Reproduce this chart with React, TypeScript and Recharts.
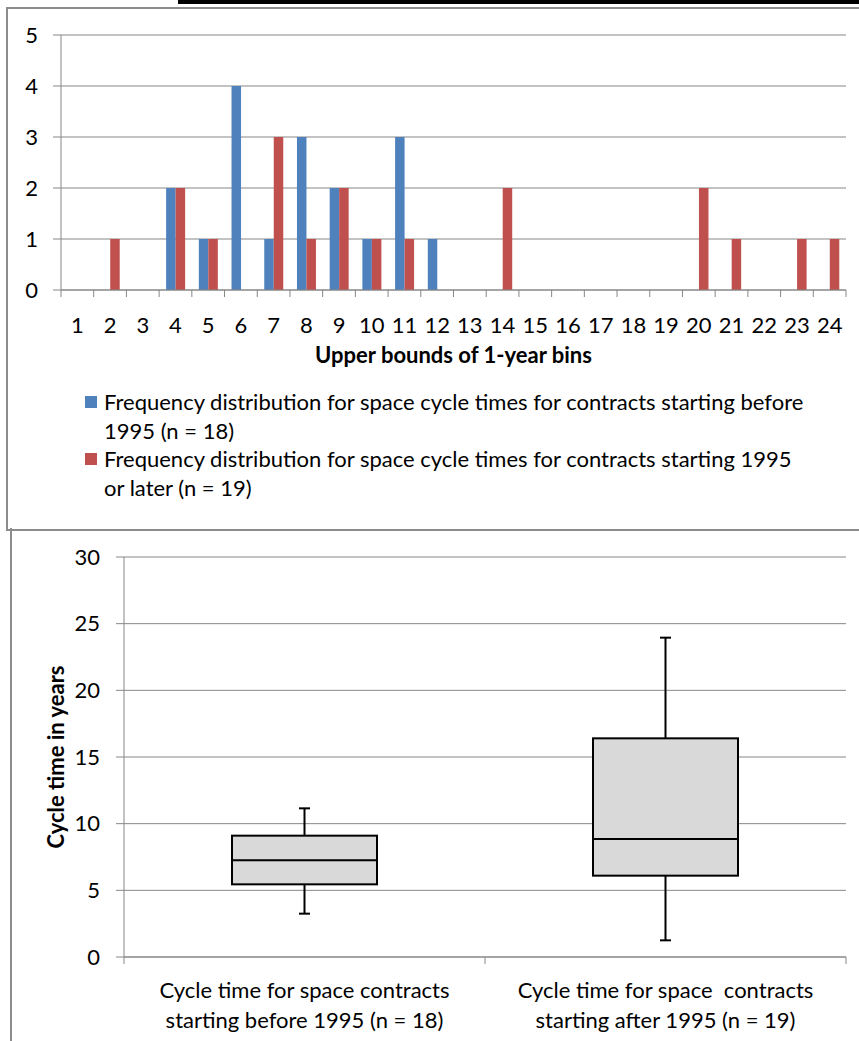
import React from "react";
import { BarChart, Bar, XAxis, YAxis, CartesianGrid } from "recharts";

// --- histogram data (1-year bins) ---
const bins = ["1", "2", "3", "4", "5", "6", "7", "8", "9", "10", "11", "12", "13", "14", "15", "16", "17", "18", "19", "20", "21", "22", "23", "24"];
const beforeCounts = [0, 0, 0, 2, 1, 4, 1, 3, 2, 1, 3, 1, 0, 0, 0, 0, 0, 0, 0, 0, 0, 0, 0, 0];
const laterCounts = [0, 1, 0, 2, 1, 0, 3, 1, 2, 1, 1, 0, 0, 2, 0, 0, 0, 0, 0, 2, 1, 0, 1, 1];
const histTicks = [0, 1, 2, 3, 4, 5];

const legendBefore = ["Frequency distribution for space cycle times for contracts starting before", "1995 (n = 18)"];
const legendLater = ["Frequency distribution for space cycle times for contracts starting 1995", "or later (n = 19)"];

// --- box plot data ---
const boxLabels = [
  ["Cycle time for space contracts", "starting before 1995 (n = 18)"],
  ["Cycle time for space  contracts", "starting after 1995 (n = 19)"],
];
const boxMin = [3.25, 1.25];
const boxQ1 = [5.45, 6.1];
const boxMedian = [7.25, 8.85];
const boxQ3 = [9.1, 16.4];
const boxMax = [11.15, 23.95];
const boxTicks = [0, 5, 10, 15, 20, 25, 30];

const BLUE = "#4F81BD";
const RED = "#C0504D";
const GRID = "#878787";
const FONT = "Lato, 'Open Sans', sans-serif";
const FS = 22;

const histData = bins.map((b, i) => ({ bin: b, before: beforeCounts[i], later: laterCounts[i] }));
const boxData = boxLabels.map((l, i) => ({
  name: String(i),
  lines: l,
  min: boxMin[i],
  q1: boxQ1[i],
  median: boxMedian[i],
  q3: boxQ3[i],
  max: boxMax[i],
}));

const W = 859;
const Y1W = 61;
const RIGHT = 13;
const histBand = (W - Y1W - RIGHT) / bins.length;
const Y2W = 124;
const boxBand = (W - Y2W - RIGHT) / boxLabels.length;

function BinTick(props: any) {
  const { x, y, payload, index } = props;
  const half = histBand / 2;
  return (
    <g>
      <line x1={x - half} x2={x - half} y1={y} y2={y + 7} stroke={GRID} />
      {index === bins.length - 1 && <line x1={x + half} x2={x + half} y1={y} y2={y + 7} stroke={GRID} />}
      <text x={x} y={y + 34} textAnchor="middle" dominantBaseline="central" fontSize={FS} fill="#000" fontFamily={FONT}>
        {payload.value}
      </text>
    </g>
  );
}

function BoxTick(props: any) {
  const { x, y, index } = props;
  const half = boxBand / 2;
  const lines = boxLabels[index];
  return (
    <g>
      <line x1={x - half} x2={x - half} y1={y} y2={y + 7} stroke={GRID} />
      {index === boxLabels.length - 1 && <line x1={x + half} x2={x + half} y1={y} y2={y + 7} stroke={GRID} />}
      {lines.map((t, i) => (
        <text key={i} x={x} y={y + 32 + i * 30} textAnchor="middle" dominantBaseline="central" fontSize={FS} fill="#000" fontFamily={FONT} style={{ whiteSpace: "pre" }}>
          {t}
        </text>
      ))}
    </g>
  );
}

function BoxShape(props: any) {
  const { x, y, width, height, payload } = props;
  const top = Math.min(y, y + height);
  const h = Math.abs(height);
  const span = payload.max - payload.min;
  const yOf = (v: number) => top + ((payload.max - v) / span) * h;
  const cx = x + width / 2;
  const cap = 5.5;
  return (
    <g>
      <line x1={cx} x2={cx} y1={yOf(payload.max)} y2={yOf(payload.min)} stroke="#000" strokeWidth={2} />
      <line x1={cx - cap} x2={cx + cap} y1={yOf(payload.max)} y2={yOf(payload.max)} stroke="#000" strokeWidth={2} />
      <line x1={cx - cap} x2={cx + cap} y1={yOf(payload.min)} y2={yOf(payload.min)} stroke="#000" strokeWidth={2} />
      <rect x={x} y={yOf(payload.q3)} width={width} height={yOf(payload.q1) - yOf(payload.q3)} fill="#D9D9D9" stroke="#000" strokeWidth={2} />
      <line x1={x} x2={x + width} y1={yOf(payload.median)} y2={yOf(payload.median)} stroke="#000" strokeWidth={2} />
    </g>
  );
}

function LegendItem({ color, lines, top }: { color: string; lines: string[]; top: number }) {
  return (
    <div style={{ position: "absolute", left: 85, top, fontSize: FS, lineHeight: "29px", fontFamily: FONT, color: "#000" }}>
      <div style={{ position: "absolute", left: 0, top: 8.5, width: 12, height: 12, background: color }} />
      <div style={{ marginLeft: 19, whiteSpace: "nowrap" }}>
        {lines.map((l, i) => (
          <div key={i}>{l}</div>
        ))}
      </div>
    </div>
  );
}

export default function App() {
  return (
    <div style={{ position: "absolute", left: 0, top: 0, width: W, height: 1041, background: "#fff", overflow: "hidden", fontFamily: FONT }}>
      {/* page artefacts: black rule and chart frames */}
      <div style={{ position: "absolute", left: 178, top: 0, width: W - 178, height: 4, background: "#000" }} />
      <div style={{ position: "absolute", left: 6, top: 7, width: W, height: 520, borderLeft: "2px solid #8c8c8c", borderTop: "2px solid #8c8c8c", borderBottom: "2px solid #8c8c8c" }} />
      <div style={{ position: "absolute", left: 10, top: 528, width: W, height: 600, borderLeft: "2px solid #8c8c8c" }} />

      <div style={{ position: "absolute", left: 0, top: 0 }}>
        <BarChart width={W} height={380} data={histData} margin={{ top: 35, right: RIGHT, bottom: 0, left: 0 }} barGap={0}>
          <CartesianGrid vertical={false} stroke={GRID} />
          <XAxis
            dataKey="bin"
            height={90}
            interval={0}
            tickLine={false}
            tickSize={0}
            tickMargin={0}
            axisLine={{ stroke: GRID }}
            tick={<BinTick />}
            label={{
              content: (p: any) => (
                <text x={p.viewBox.x + p.viewBox.width / 2} y={p.viewBox.y + 64} textAnchor="middle" dominantBaseline="central" fontSize={FS} fontWeight="bold" fill="#000" fontFamily={FONT}>
                  Upper bounds of 1-year bins
                </text>
              ),
            }}
          />
          <YAxis
            width={Y1W}
            domain={[0, 5]}
            ticks={histTicks}
            interval={0}
            tickSize={8}
            tickMargin={15}
            axisLine={{ stroke: GRID }}
            tickLine={{ stroke: GRID }}
            tick={{ fill: "#000", fontSize: FS, fontFamily: FONT }}
          />
          <Bar dataKey="before" name={legendBefore.join(" ")} fill={BLUE} barSize={9.5} isAnimationActive={false} />
          <Bar dataKey="later" name={legendLater.join(" ")} fill={RED} barSize={9.5} isAnimationActive={false} />
        </BarChart>
      </div>

      <LegendItem color={BLUE} lines={legendBefore} top={387} />
      <LegendItem color={RED} lines={legendLater} top={444} />

      <div style={{ position: "absolute", left: 0, top: 530 }}>
        <BarChart width={W} height={511} data={boxData} margin={{ top: 27, right: RIGHT, bottom: 0, left: 0 }}>
          <CartesianGrid vertical={false} stroke={GRID} />
          <XAxis dataKey="name" height={84} interval={0} tickLine={false} tickSize={0} tickMargin={0} axisLine={{ stroke: GRID }} tick={<BoxTick />} />
          <YAxis
            width={Y2W}
            domain={[0, 30]}
            ticks={boxTicks}
            interval={0}
            tickSize={8}
            tickMargin={16}
            axisLine={{ stroke: GRID }}
            tickLine={{ stroke: GRID }}
            tick={{ fill: "#000", fontSize: FS, fontFamily: FONT }}
            label={{
              content: (p: any) => {
                const cy = p.viewBox.y + p.viewBox.height / 2;
                return (
                  <text x={55} y={cy} transform={`rotate(-90 55 ${cy})`} textAnchor="middle" dominantBaseline="central" fontSize={FS} fontWeight="bold" fill="#000" fontFamily={FONT}>
                    Cycle time in years
                  </text>
                );
              },
            }}
          />
          <Bar dataKey={(d: any) => [d.min, d.max]} barSize={145} shape={<BoxShape />} isAnimationActive={false} />
        </BarChart>
      </div>
    </div>
  );
}
